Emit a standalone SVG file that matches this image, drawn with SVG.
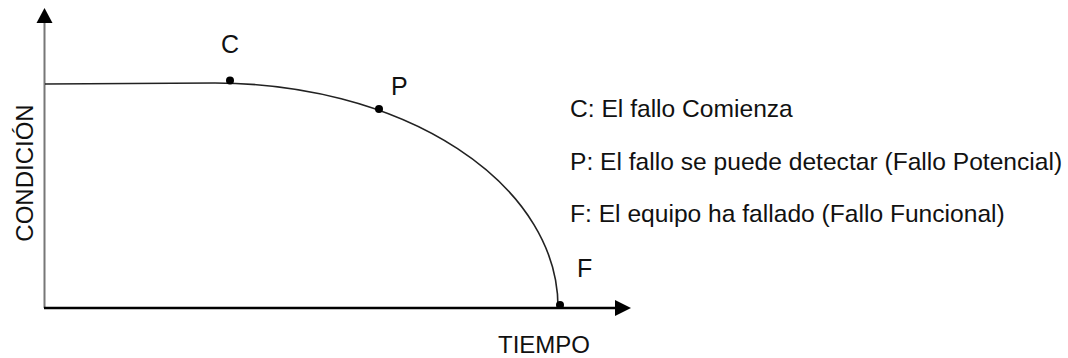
<svg xmlns="http://www.w3.org/2000/svg" width="1068" height="358" viewBox="0 0 1068 358">
<style>
text{font-family:"Liberation Sans",Arial,sans-serif;fill:#111}
.lbl{font-size:25px}
.leg{font-size:24.6px}
.ax{font-size:24px}
.dot{fill:#000}
</style>
<rect width="1068" height="358" fill="#fff"/>
<g id="connectors">
<line id="y-axis" x1="44.5" y1="308" x2="44.5" y2="22" stroke="#777" stroke-width="2"/>
<polygon points="44.5,8 36.5,23 52.5,23" fill="#000"/>
<line id="x-axis" x1="44" y1="308" x2="616" y2="308" stroke="#000" stroke-width="2.5"/>
<polygon points="631,308 615,300 615,316" fill="#000"/>
<path id="curve" d="M45,84 L215,83 A343,224 0 0 1 558,307" fill="none" stroke="#222" stroke-width="1.6"/>
</g>
<g id="node-C"><circle class="dot" cx="230" cy="80.5" r="4"/><text class="lbl" x="221" y="53">C</text></g>
<g id="node-P"><circle class="dot" cx="379" cy="109" r="4"/><text class="lbl" x="391" y="95">P</text></g>
<g id="node-F"><circle class="dot" cx="560" cy="305" r="4"/><text class="lbl" x="577" y="277">F</text></g>
<g id="axis-labels">
<text class="ax" x="544" y="353" text-anchor="middle">TIEMPO</text>
<text class="ax" transform="translate(33,173) rotate(-90)" text-anchor="middle">CONDICIÓN</text>
</g>
<g id="legend">
<text class="leg" x="570" y="117">C: El fallo Comienza</text>
<text class="leg" x="570" y="170">P: El fallo se puede detectar (Fallo Potencial)</text>
<text class="leg" x="570" y="222">F: El equipo ha fallado (Fallo Funcional)</text>
</g>
</svg>
